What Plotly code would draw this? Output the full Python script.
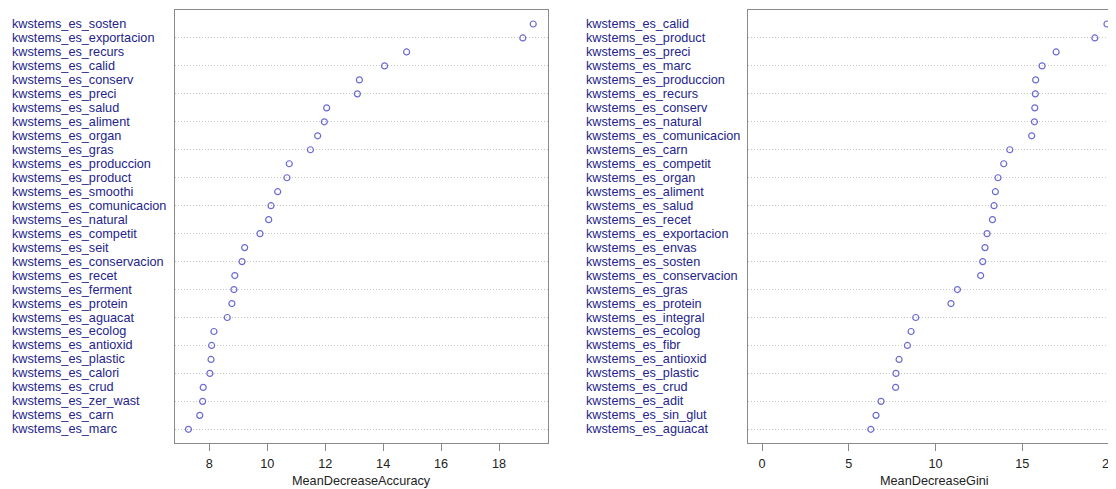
import plotly.graph_objects as go

# page body has an 8px margin: the figure is sized so it fills the window exactly
OFF = 8
FW, FH = 1116 - OFF, 489 - OFF

# ---- data ----
acc_labels = [
    "kwstems_es_sosten", "kwstems_es_exportacion", "kwstems_es_recurs", "kwstems_es_calid",
    "kwstems_es_conserv", "kwstems_es_preci", "kwstems_es_salud", "kwstems_es_aliment",
    "kwstems_es_organ", "kwstems_es_gras", "kwstems_es_produccion", "kwstems_es_product",
    "kwstems_es_smoothi", "kwstems_es_comunicacion", "kwstems_es_natural", "kwstems_es_competit",
    "kwstems_es_seit", "kwstems_es_conservacion", "kwstems_es_recet", "kwstems_es_ferment",
    "kwstems_es_protein", "kwstems_es_aguacat", "kwstems_es_ecolog", "kwstems_es_antioxid",
    "kwstems_es_plastic", "kwstems_es_calori", "kwstems_es_crud", "kwstems_es_zer_wast",
    "kwstems_es_carn", "kwstems_es_marc",
]
acc_values = [
    19.18, 18.82, 14.81, 14.05, 13.18, 13.11, 12.05, 11.97, 11.74, 11.49,
    10.76, 10.68, 10.36, 10.13, 10.05, 9.75, 9.22, 9.13, 8.88, 8.85,
    8.78, 8.62, 8.16, 8.08, 8.06, 8.02, 7.79, 7.77, 7.67, 7.28,
]

gini_labels = [
    "kwstems_es_calid", "kwstems_es_product", "kwstems_es_preci", "kwstems_es_marc",
    "kwstems_es_produccion", "kwstems_es_recurs", "kwstems_es_conserv", "kwstems_es_natural",
    "kwstems_es_comunicacion", "kwstems_es_carn", "kwstems_es_competit", "kwstems_es_organ",
    "kwstems_es_aliment", "kwstems_es_salud", "kwstems_es_recet", "kwstems_es_exportacion",
    "kwstems_es_envas", "kwstems_es_sosten", "kwstems_es_conservacion", "kwstems_es_gras",
    "kwstems_es_protein", "kwstems_es_integral", "kwstems_es_ecolog", "kwstems_es_fibr",
    "kwstems_es_antioxid", "kwstems_es_plastic", "kwstems_es_crud", "kwstems_es_adit",
    "kwstems_es_sin_glut", "kwstems_es_aguacat",
]
gini_values = [
    19.88, 19.18, 16.95, 16.14, 15.77, 15.75, 15.72, 15.70, 15.54, 14.28,
    13.93, 13.60, 13.45, 13.37, 13.28, 12.97, 12.85, 12.72, 12.60, 11.26,
    10.89, 8.86, 8.59, 8.38, 7.90, 7.72, 7.70, 6.86, 6.57, 6.27,
]

acc_ticks = [8, 10, 12, 14, 16, 18]
gini_ticks = [0, 5, 10, 15, 20]

# ---- style ----
FONT = "Liberation Sans, Arial, sans-serif"
LABEL_COLOR = "#24248C"
POINT_COLOR = "#6B6BD3"
BOX_COLOR = "#8A8A8A"
GRID_COLOR = "#C8C8C8"
TEXT_COLOR = "#222222"
FS = 12.7


def px(x):
    return (x - OFF) / FW


def py(y):
    return 1 - (y - OFF) / FH


fig = go.Figure()

fig.add_trace(go.Scatter(
    x=acc_values, y=acc_labels, mode="markers", xaxis="x", yaxis="y",
    marker=dict(symbol="circle-open", size=6, color=POINT_COLOR, line=dict(width=1.2, color=POINT_COLOR)),
    showlegend=False, hoverinfo="x+y",
))
fig.add_trace(go.Scatter(
    x=gini_values, y=gini_labels, mode="markers", xaxis="x2", yaxis="y2",
    marker=dict(symbol="circle-open", size=6, color=POINT_COLOR, line=dict(width=1.2, color=POINT_COLOR)),
    showlegend=False, hoverinfo="x+y",
))

ydom = [py(443.3), py(10)]
n = len(acc_labels)

common_x = dict(
    showgrid=False, zeroline=False, showline=True, linecolor=BOX_COLOR, linewidth=1,
    ticks="outside", ticklen=7, tickcolor=BOX_COLOR, tickwidth=1,
    tickfont=dict(family=FONT, size=FS, color=TEXT_COLOR), automargin=False,
    ticklabelstandoff=1, ticklabeloverflow="allow", fixedrange=True,
)
common_y = dict(
    type="category", showgrid=True, gridcolor=GRID_COLOR, griddash="1px,2px", gridwidth=1,
    zeroline=False, showticklabels=False, ticks="", range=[n, -1], domain=ydom,
    automargin=False, fixedrange=True,
)

fig.update_layout(
    width=FW, height=FH,
    margin=dict(l=0, r=0, t=0, b=0),
    paper_bgcolor="white", plot_bgcolor="white",
    xaxis=dict(common_x, domain=[px(175), px(548)], range=[6.816, 19.69],
               tickvals=acc_ticks, anchor="y", mirror=True),
    yaxis=dict(common_y, categoryorder="array", categoryarray=acc_labels, anchor="x",
               showline=True, linecolor=BOX_COLOR, linewidth=1, mirror=True),
    xaxis2=dict(common_x, domain=[px(748.3), 1.0], range=[-0.79, 20.40],
                tickvals=gini_ticks, anchor="y2", mirror=True),
    yaxis2=dict(common_y, categoryorder="array", categoryarray=gini_labels, anchor="x2",
                showline=True, linecolor=BOX_COLOR, linewidth=1, mirror=False),
)

annotations = []
for lab in acc_labels:
    annotations.append(dict(x=px(10), y=lab, xref="paper", yref="y", text=lab,
                            xanchor="left", yanchor="middle", showarrow=False,
                            font=dict(family=FONT, size=FS, color=LABEL_COLOR)))
for lab in gini_labels:
    annotations.append(dict(x=px(584), y=lab, xref="paper", yref="y2", text=lab,
                            xanchor="left", yanchor="middle", showarrow=False,
                            font=dict(family=FONT, size=FS, color=LABEL_COLOR)))
annotations.append(dict(x=px(361), y=py(481), xref="paper", yref="paper",
                        text="MeanDecreaseAccuracy", xanchor="center", yanchor="middle",
                        showarrow=False, font=dict(family=FONT, size=FS, color=TEXT_COLOR)))
annotations.append(dict(x=px(934), y=py(481), xref="paper", yref="paper",
                        text="MeanDecreaseGini", xanchor="center", yanchor="middle",
                        showarrow=False, font=dict(family=FONT, size=FS, color=TEXT_COLOR)))
fig.update_layout(annotations=annotations)

fig.write_html("out.html")
